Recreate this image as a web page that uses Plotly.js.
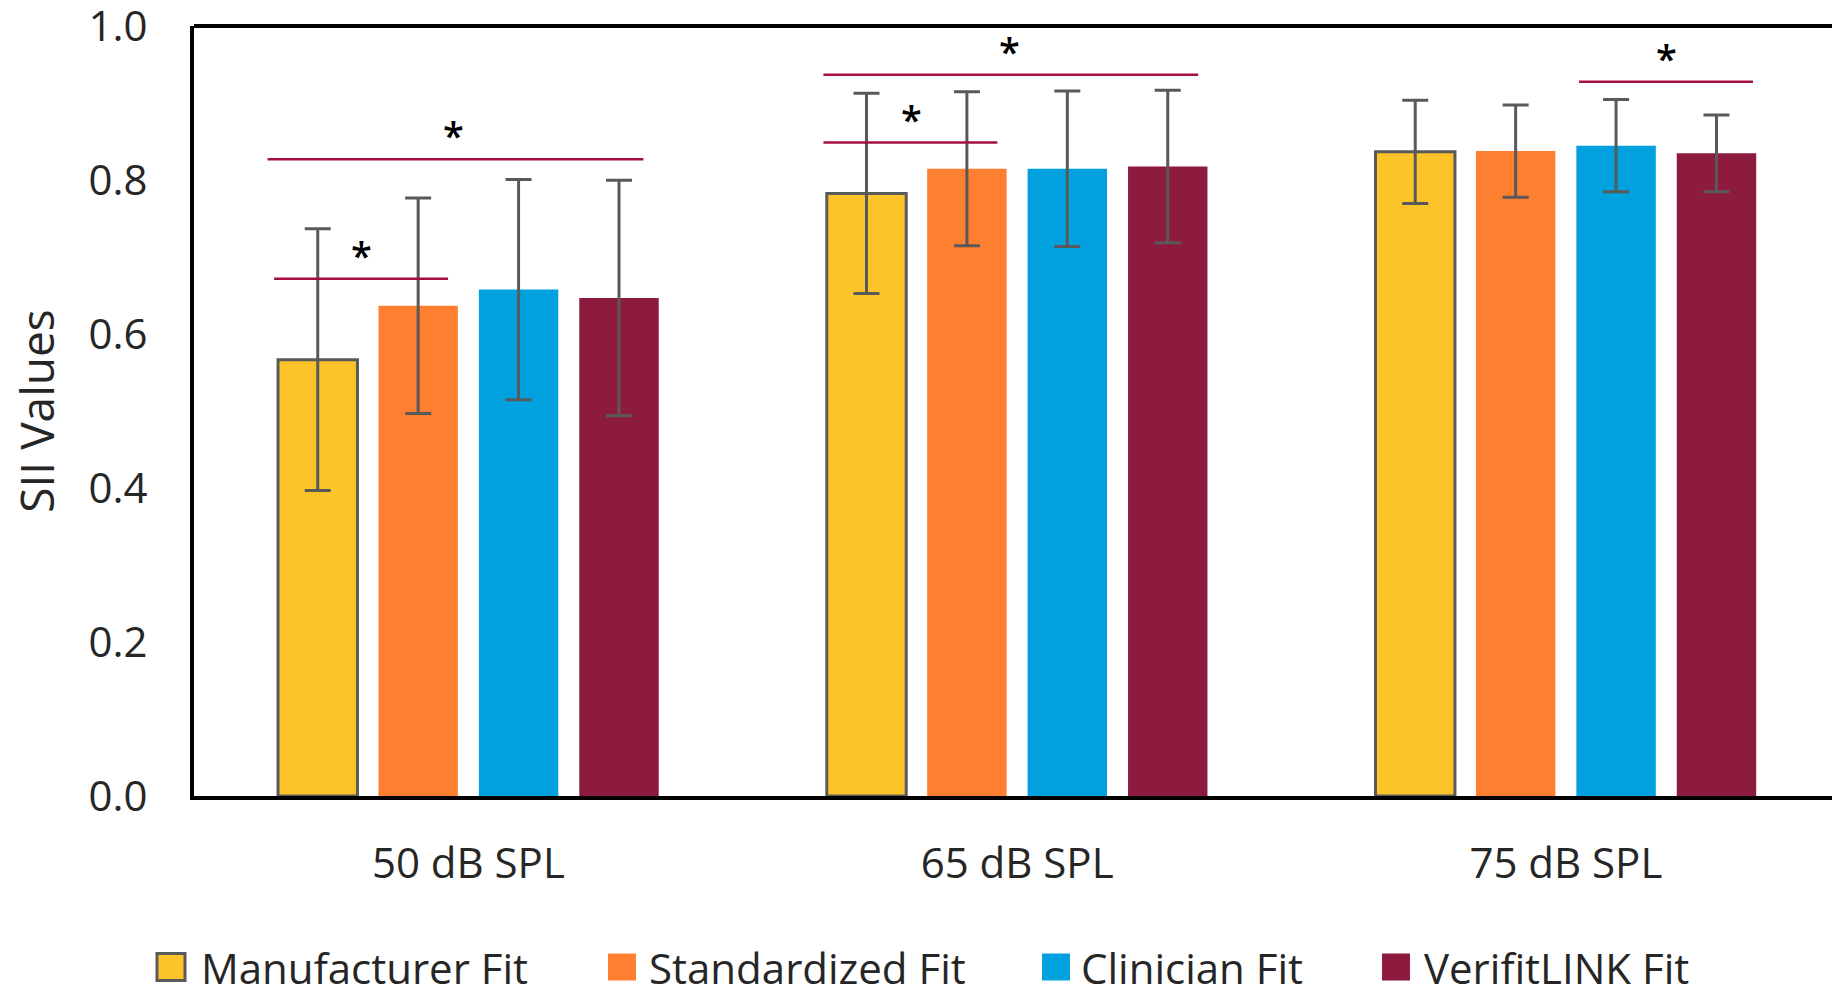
<!DOCTYPE html>
<html><head><meta charset="utf-8">
<script src="https://cdn.plot.ly/plotly-3.0.1.min.js"></script>
<style>html,body{margin:0;padding:0;background:#fff;overflow:hidden}</style>
</head><body><div id="chart" style="width:1832px;height:993px"></div>
<script>
// ---- data ----
const categories = ['50 dB SPL', '65 dB SPL', '75 dB SPL'];
const seriesNames = ['Manufacturer Fit', 'Standardized Fit', 'Clinician Fit', 'VerifitLINK Fit'];
const manufacturer = [0.567, 0.783, 0.837];
const manufacturerSD = [0.170, 0.130, 0.067];
const standardized = [0.637, 0.815, 0.838];
const standardizedSD = [0.140, 0.100, 0.060];
const clinician = [0.658, 0.815, 0.845];
const clinicianSD = [0.143, 0.101, 0.060];
const verifitlink = [0.647, 0.818, 0.835];
const verifitlinkSD = [0.153, 0.099, 0.050];
const yTicks = [0.0, 0.2, 0.4, 0.6, 0.8, 1.0];
const yTickText = ['0.0', '0.2', '0.4', '0.6', '0.8', '1.0'];
// significance brackets (group index, start/end offset within group, level)
const sigGroup = [0, 0, 1, 1, 2];
const sigStart = [-0.366, -0.354, -0.353, -0.353, 0.024];
const sigEnd = [0.319, -0.037, 0.330, -0.036, 0.341];
const sigLevel = [0.8275, 0.672, 0.937, 0.849, 0.928];
const sigStarX = [-0.027, -0.195, -0.014, -0.192, 0.183];
const sigLabel = ['*', '*', '*', '*', '*'];

// ---- style ----
const colors = ['#FDC42A', '#FE7F2F', '#00A1DE', '#8C1B3E'];
const outline = ['#5A5A5A', null, null, null];
const values = [manufacturer, standardized, clinician, verifitlink];
const sds = [manufacturerSD, standardizedSD, clinicianSD, verifitlinkSD];
const FONT = 'Open Sans, Noto Sans, sans-serif';
const TXT = '#262626';

const traces = seriesNames.map((name, i) => ({
  type: 'bar',
  name: name,
  x: categories,
  y: values[i],
  marker: {
    color: colors[i],
    line: outline[i] ? {color: outline[i], width: 3} : {width: 0}
  },
  error_y: {type: 'data', array: sds[i], visible: true, color: '#595959', thickness: 3, width: 13},
  showlegend: false,
  hoverinfo: 'skip'
}));

const W = 1832, H = 993, L = 194, R = 0, T = 26, B = 197;
const pw = W - L - R, ph = H - T - B;
const px = v => (v - L) / pw;
const py = v => (H - B - v) / ph;

const shapes = [
  // top frame line
  {type: 'line', xref: 'paper', yref: 'paper', x0: 0, x1: 1, y0: 1, y1: 1, line: {color: '#000', width: 4}}
];
const annotations = [];
sigGroup.forEach((g, k) => {
  shapes.push({type: 'line', xref: 'x', yref: 'y', x0: g + sigStart[k], x1: g + sigEnd[k], y0: sigLevel[k], y1: sigLevel[k],
    line: {color: '#A3103F', width: 2.5}});
  annotations.push({xref: 'x', yref: 'y', x: g + sigStarX[k], y: sigLevel[k], text: sigLabel[k], showarrow: false,
    xanchor: 'center', yanchor: 'bottom', yshift: -4, font: {family: FONT, size: 38, weight: 600, color: '#000'}});
});

// custom legend (large swatches)
const legBoxX = [157, 608, 1042, 1382];
const legTextX = [200, 648, 1080, 1423];
const legY = 967;
seriesNames.forEach((name, i) => {
  shapes.push({type: 'rect', xref: 'paper', yref: 'paper',
    x0: px(legBoxX[i]), x1: px(legBoxX[i] + 28), y0: py(legY + 13.5), y1: py(legY - 13.5),
    fillcolor: colors[i], line: outline[i] ? {color: outline[i], width: 3} : {width: 0}});
  annotations.push({xref: 'paper', yref: 'paper', x: px(legTextX[i]), y: py(legY), text: name, showarrow: false,
    xanchor: 'left', yanchor: 'middle', height: 40, valign: 'middle', borderpad: 0,
    font: {family: FONT, size: 42, color: TXT}});
});

const layout = {
  width: W, height: H,
  margin: {l: L, r: R, t: T, b: B, pad: 0},
  paper_bgcolor: '#fff', plot_bgcolor: '#fff',
  font: {family: FONT, color: TXT},
  barmode: 'group',
  bargap: 0.268,
  bargroupgap: 0.209,
  showlegend: false,
  xaxis: {
    type: 'category', range: [-0.5, 2.485], showgrid: false, zeroline: false,
    showline: true, linecolor: '#000', linewidth: 4, ticks: '',
    tickfont: {family: FONT, size: 42, color: TXT}, ticklabelstandoff: 28,
    fixedrange: true
  },
  yaxis: {
    range: [0, 1.0005], showgrid: false, zeroline: false, showline: true, linecolor: '#000', linewidth: 4,
    ticks: '', tickvals: yTicks, ticktext: yTickText, ticklabeloverflow: 'allow',
    tickfont: {family: FONT, size: 42, color: TXT}, ticklabelstandoff: 34,
    title: {text: 'SII Values', font: {family: FONT, size: 46, color: TXT}, standoff: 20},
    fixedrange: true
  },
  shapes: shapes,
  annotations: annotations
};

Plotly.newPlot('chart', traces, layout, {displayModeBar: false, staticPlot: true});
</script>
</body></html>
